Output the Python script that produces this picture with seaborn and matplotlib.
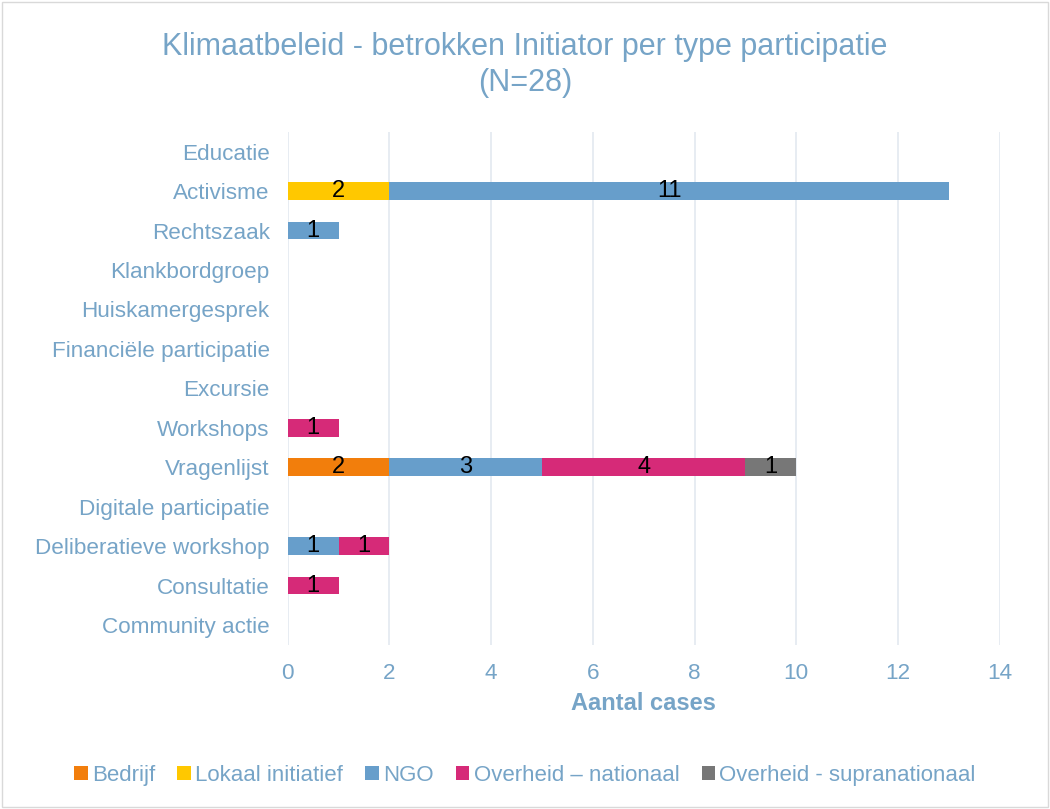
import numpy as np
import pandas as pd
import seaborn as sns
import matplotlib.pyplot as plt
from matplotlib.patches import Patch, Rectangle

# Data
categories = ["Educatie", "Activisme", "Rechtszaak", "Klankbordgroep", "Huiskamergesprek",
              "Financiële participatie", "Excursie", "Workshops", "Vragenlijst",
              "Digitale participatie", "Deliberatieve workshop", "Consultatie", "Community actie"]
series_names = ["Bedrijf", "Lokaal initiatief", "NGO", "Overheid – nationaal", "Overheid - supranationaal"]
bedrijf = [0, 0, 0, 0, 0, 0, 0, 0, 2, 0, 0, 0, 0]
lokaal = [0, 2, 0, 0, 0, 0, 0, 0, 0, 0, 0, 0, 0]
ngo = [0, 11, 1, 0, 0, 0, 0, 0, 3, 0, 1, 0, 0]
overheid_nat = [0, 0, 0, 0, 0, 0, 0, 1, 4, 0, 1, 1, 0]
overheid_supra = [0, 0, 0, 0, 0, 0, 0, 0, 1, 0, 0, 0, 0]

colors = ["#F27E0C", "#FFC800", "#679ECB", "#D62A78", "#777777"]
text_color = "#76A4C7"

df = pd.DataFrame({"Bedrijf": bedrijf, "Lokaal initiatief": lokaal, "NGO": ngo,
                   "Overheid – nationaal": overheid_nat,
                   "Overheid - supranationaal": overheid_supra}, index=categories)

sns.set_theme(style="white")
plt.rcParams['font.family'] = ['Liberation Sans', 'DejaVu Sans']

fig = plt.figure(figsize=(10.5, 8.09), dpi=100)
ax = fig.add_axes([0.274, 0.203, 0.678, 0.634])

ypos = np.arange(len(categories))
left = np.zeros(len(categories))
for name, col in zip(series_names, colors):
    vals = df[name].values.astype(float)
    bars = ax.barh(ypos, vals, left=left, height=0.45, color=col, linewidth=0, zorder=3)
    labels = [str(int(v)) if v > 0 else "" for v in vals]
    ax.bar_label(bars, labels=labels, label_type="center", fontsize=17, color="black")
    left += vals

ax.set_ylim(len(categories) - 0.5, -0.5)
ax.set_yticks(ypos)
ax.set_yticklabels(categories)
ax.set_xlim(0, 14)
ax.set_xticks(range(0, 15, 2))
ax.tick_params(axis="both", length=0, labelsize=16.2, labelcolor=text_color)
ax.tick_params(axis="y", pad=13)
ax.tick_params(axis="x", pad=13)
ax.grid(axis="x", color="#E3E9F0", linewidth=1.2, zorder=0)
for s in ax.spines.values():
    s.set_visible(False)
ax.set_xlabel("Aantal cases", fontsize=17, color=text_color, fontweight="bold", labelpad=6)

fig.suptitle("Klimaatbeleid - betrokken Initiator per type participatie\n(N=28)",
             y=0.96, fontsize=22, color=text_color, linespacing=1.25)

handles = [Patch(facecolor=c, edgecolor="none") for c in colors]
leg = fig.legend(handles, series_names, loc="center", bbox_to_anchor=(0.5, 0.042), ncol=5,
                 frameon=False, fontsize=16, handlelength=0.6, handleheight=0.6,
                 handletextpad=0.2, columnspacing=1.0)
for t in leg.get_texts():
    t.set_color(text_color)

fig.patches.append(Rectangle((0.002, 0.002), 0.996, 0.996, transform=fig.transFigure,
                             fill=False, edgecolor="#D9D9D9", linewidth=1))

fig.savefig("out.png", dpi=100)
